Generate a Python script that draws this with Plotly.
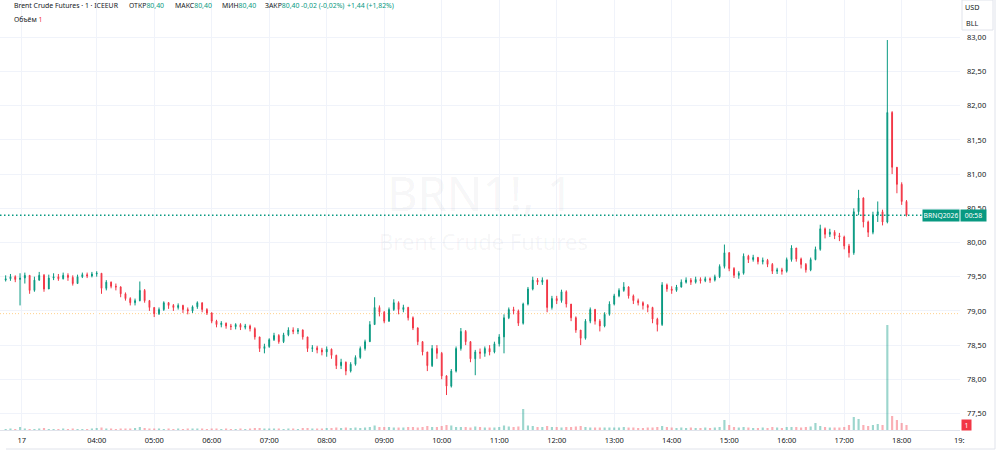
import plotly.graph_objects as go
from datetime import datetime, timedelta

# ---------------- data (5-minute bars) ----------------
day = "2026-06-17"
first_bar = "02:25"
bar_minutes = 5
first_open = 79.45

closes = [
    79.47, 79.50, 79.46, 79.48, 79.52, 79.30, 79.45, 79.52, 79.32, 79.48,
    79.50, 79.47, 79.52, 79.49, 79.40, 79.50, 79.53, 79.51, 79.54, 79.55,
    79.33, 79.42, 79.36, 79.35, 79.25, 79.18, 79.12, 79.15, 79.30, 79.15,
    79.05, 78.96, 79.02, 79.12, 79.08, 79.05, 79.08, 79.02, 79.00, 79.06,
    79.12, 79.02, 78.97, 78.85, 78.80, 78.82, 78.78, 78.77, 78.80, 78.76,
    78.78, 78.74, 78.62, 78.45, 78.48, 78.58, 78.64, 78.55, 78.65, 78.72,
    78.70, 78.72, 78.62, 78.45, 78.46, 78.43, 78.40, 78.44, 78.35, 78.20,
    78.25, 78.12, 78.22, 78.32, 78.45, 78.55, 78.80, 79.05, 78.98, 78.85,
    79.02, 79.12, 79.02, 79.05, 78.90, 78.75, 78.55, 78.40, 78.20, 78.45,
    78.38, 78.05, 77.90, 78.12, 78.45, 78.70, 78.55, 78.30, 78.40, 78.38,
    78.45, 78.40, 78.52, 78.62, 78.90, 79.02, 79.00, 78.82, 79.10, 79.32,
    79.45, 79.42, 79.45, 79.05, 79.18, 79.15, 79.28, 79.10, 78.90, 78.72,
    78.60, 78.85, 79.02, 78.85, 78.78, 78.95, 79.10, 79.22, 79.30, 79.35,
    79.22, 79.15, 79.12, 79.08, 79.05, 78.88, 78.80, 79.38, 79.32, 79.30,
    79.35, 79.42, 79.45, 79.42, 79.46, 79.44, 79.47, 79.45, 79.50, 79.65,
    79.85, 79.62, 79.52, 79.55, 79.80, 79.75, 79.78, 79.72, 79.74, 79.68,
    79.58, 79.60, 79.58, 79.75, 79.92, 79.76, 79.68, 79.60, 79.75, 79.90,
    80.20, 80.12, 80.15, 80.10, 80.08, 79.95, 79.85, 80.45, 80.65, 80.30,
    80.15, 80.40, 80.45, 80.30, 81.90, 81.10, 80.85, 80.60, 80.40,
]

highs = [
    79.52, 79.54, 79.52, 79.55, 79.56, 79.50, 79.50, 79.57, 79.54, 79.53,
    79.55, 79.54, 79.56, 79.55, 79.52, 79.53, 79.56, 79.56, 79.57, 79.58,
    79.55, 79.45, 79.43, 79.40, 79.36, 79.27, 79.20, 79.18, 79.43, 79.32,
    79.16, 79.05, 79.05, 79.14, 79.13, 79.10, 79.11, 79.09, 79.05, 79.08,
    79.14, 79.12, 79.04, 78.98, 78.87, 78.85, 78.83, 78.81, 78.82, 78.82,
    78.81, 78.80, 78.76, 78.62, 78.52, 78.60, 78.68, 78.66, 78.68, 78.76,
    78.76, 78.75, 78.73, 78.62, 78.50, 78.49, 78.46, 78.48, 78.45, 78.36,
    78.30, 78.26, 78.25, 78.35, 78.48, 78.58, 78.85, 79.20, 79.08, 79.00,
    79.05, 79.17, 79.14, 79.09, 79.06, 78.92, 78.76, 78.56, 78.40, 78.50,
    78.50, 78.40, 78.06, 78.15, 78.48, 78.75, 78.72, 78.56, 78.43, 78.45,
    78.48, 78.50, 78.55, 78.66, 78.95, 79.05, 79.06, 79.02, 79.12, 79.35,
    79.50, 79.48, 79.49, 79.46, 79.22, 79.22, 79.31, 79.30, 79.10, 78.92,
    78.72, 78.88, 79.05, 79.03, 78.88, 78.98, 79.14, 79.25, 79.33, 79.42,
    79.36, 79.24, 79.18, 79.14, 79.10, 79.06, 78.90, 79.42, 79.40, 79.36,
    79.38, 79.46, 79.49, 79.48, 79.50, 79.49, 79.50, 79.49, 79.53, 79.68,
    79.97, 79.86, 79.64, 79.58, 79.84, 79.82, 79.82, 79.79, 79.78, 79.76,
    79.70, 79.63, 79.63, 79.78, 79.96, 79.92, 79.78, 79.70, 79.78, 79.94,
    80.26, 80.22, 80.20, 80.18, 80.14, 80.10, 79.98, 80.50, 80.77, 80.66,
    80.32, 80.45, 80.60, 80.48, 82.96, 81.92, 81.05, 80.88, 80.62,
]

lows = [
    79.43, 79.44, 79.42, 79.08, 79.40, 79.25, 79.28, 79.44, 79.28, 79.32,
    79.45, 79.44, 79.46, 79.44, 79.37, 79.40, 79.48, 79.48, 79.49, 79.50,
    79.25, 79.30, 79.33, 79.30, 79.20, 79.15, 79.08, 79.08, 79.14, 79.12,
    79.00, 78.91, 78.94, 79.00, 79.03, 79.00, 79.02, 78.97, 78.95, 78.97,
    79.03, 78.98, 78.94, 78.82, 78.76, 78.76, 78.74, 78.72, 78.73, 78.72,
    78.73, 78.70, 78.58, 78.40, 78.38, 78.46, 78.56, 78.52, 78.53, 78.63,
    78.66, 78.66, 78.58, 78.40, 78.40, 78.38, 78.35, 78.33, 78.30, 78.15,
    78.15, 78.06, 78.10, 78.20, 78.30, 78.42, 78.55, 78.80, 78.92, 78.82,
    78.84, 79.00, 78.95, 78.98, 78.86, 78.72, 78.50, 78.35, 78.12, 78.18,
    78.30, 78.00, 77.77, 77.88, 78.10, 78.42, 78.50, 78.25, 78.06, 78.30,
    78.33, 78.35, 78.38, 78.48, 78.38, 78.88, 78.95, 78.78, 78.80, 79.08,
    79.30, 79.38, 79.38, 78.98, 79.02, 79.10, 79.12, 79.05, 78.85, 78.68,
    78.50, 78.58, 78.82, 78.80, 78.70, 78.76, 78.93, 79.08, 79.20, 79.28,
    79.18, 79.10, 79.08, 79.02, 78.98, 78.82, 78.70, 78.78, 79.28, 79.25,
    79.28, 79.34, 79.40, 79.38, 79.40, 79.40, 79.42, 79.41, 79.43, 79.48,
    79.62, 79.58, 79.48, 79.47, 79.53, 79.70, 79.72, 79.68, 79.68, 79.64,
    79.54, 79.54, 79.53, 79.56, 79.72, 79.72, 79.62, 79.56, 79.58, 79.74,
    79.88, 80.06, 80.08, 80.05, 80.02, 79.90, 79.78, 79.82, 80.40, 80.22,
    80.08, 80.12, 80.30, 80.25, 80.28, 81.00, 80.72, 80.55, 80.38,
]

volumes = [
    10, 15, 10, 30, 15, 10, 10, 15, 20, 10, 10, 10, 15, 10, 15, 10, 10, 10, 15,
    20, 25, 15, 15, 10, 15, 15, 15, 20, 30, 20, 15,
    15, 15, 10, 15, 10, 15, 10, 15, 15, 15, 15, 10,
    15, 15, 10, 15, 10, 10, 15, 10, 15, 20, 20, 15,
    15, 15, 15, 10, 15, 15, 10, 20, 20, 15, 15, 15,
    20, 20, 25, 20, 25, 20, 25, 20, 25, 30, 45, 30,
    30, 30, 25, 25, 25, 30, 30, 25, 30, 40, 30, 30,
    40, 50, 45, 30, 30, 30, 25, 35, 30, 25, 25, 25,
    30, 45, 35, 30, 35, 210, 45, 40, 30, 30, 40, 30,
    30, 25, 30, 30, 35, 40, 30, 25, 25, 25, 25, 25,
    25, 25, 30, 25, 25, 20, 20, 25, 25, 30, 40, 30,
    25, 20, 25, 20, 25, 20, 20, 25, 20, 25, 30, 100,
    50, 30, 25, 30, 25, 20, 20, 25, 20, 30, 25, 20,
    30, 30, 30, 25, 30, 35, 70, 40, 30, 25, 25, 25,
    30, 50, 130, 110, 50, 40, 50, 60, 50, 1050, 140, 100,
    70, 50,
]

prev_close = 78.96
price_ticks = [77.5, 78.0, 78.5, 79.0, 79.5, 80.0, 80.5, 81.0, 81.5, 82.0, 82.5, 83.0]
tick_times = ["02:41:44", "04:00", "05:00", "06:00", "07:00", "08:00", "09:00", "10:00",
              "11:00", "12:00", "13:00", "14:00", "15:00", "16:00", "17:00", "18:00", "19:00"]
tick_labels = ["17", "04:00", "05:00", "06:00", "07:00", "08:00", "09:00", "10:00",
               "11:00", "12:00", "13:00", "14:00", "15:00", "16:00", "17:00", "18:00", "19:"]

symbol = "BRN1!, 1"
title = "Brent Crude Futures"
contract = "BRNQ2026"
countdown = "00:58"
legend_name = "Brent Crude Futures · 1 · ICEEUR"
ohlc_labels = ["ОТКР", "МАКС", "МИН", "ЗАКР"]
ohlc_values = ["80,40", "80,40", "80,40", "80,40"]
bar_change = "-0,02 (-0,02%)"
day_change = "+1,44 (+1,82%)"
volume_label = "Объём"
volume_value = "1"

# ---------------- build ----------------
UP = "#089981"
DOWN = "#F23645"
FONT = "Noto Sans"

start = datetime.fromisoformat(f"{day} {first_bar}")
times = [start + timedelta(minutes=bar_minutes * i) for i in range(len(closes))]
opens = [first_open] + closes[:-1]
hi = [max(h, o, c) for h, o, c in zip(highs, opens, closes)]
lo = [min(l, o, c) for l, o, c in zip(lows, opens, closes)]
vol_colors = ["rgba(8,153,129,0.4)" if c >= o else "rgba(242,54,69,0.4)"
              for o, c in zip(opens, closes)]

last = closes[-1]

fig = go.Figure()
fig.add_trace(go.Bar(x=times, y=volumes, marker=dict(color=vol_colors, line=dict(width=0)),
                     yaxis="y2", hoverinfo="skip"))
fig.add_trace(go.Candlestick(
    x=times, open=opens, high=hi, low=lo, close=closes,
    increasing=dict(line=dict(color=UP, width=1), fillcolor=UP),
    decreasing=dict(line=dict(color=DOWN, width=1), fillcolor=DOWN),
    whiskerwidth=0, yaxis="y"))

x_range = [f"{day} 02:19:05", f"{day} 19:00:50"]
y_range = [77.259, 83.545]

fig.update_layout(
    width=1000, height=459,
    margin=dict(l=0, r=40, t=0, b=29),
    paper_bgcolor="white", plot_bgcolor="white",
    showlegend=False, bargap=0.55, boxgap=0.75, boxgroupgap=0.3,
    separators=", ",
    font=dict(family=FONT, color="#131722", size=8),
    xaxis=dict(type="date", range=x_range,
               tickvals=[f"{day} {t}" for t in tick_times], ticktext=tick_labels,
               showgrid=True, gridcolor="#f0f3fa", gridwidth=1,
               rangeslider=dict(visible=False), ticks="", ticklabelstandoff=3,
               showline=True, linecolor="#e0e3eb", linewidth=1,
               tickfont=dict(size=7.5, color="#131722"), zeroline=False),
    yaxis=dict(side="right", range=y_range, tickvals=price_ticks, tickformat=".2f",
               showgrid=True, gridcolor="#f0f3fa", zeroline=False, ticks="",
               ticklabelstandoff=6, tickfont=dict(size=7.5, color="#131722"),
               showline=False),
    yaxis2=dict(overlaying="y", side="right", range=[0, 4300], visible=False),
)

shapes = [
    dict(type="line", xref="paper", x0=0, x1=1, yref="y", y0=prev_close, y1=prev_close,
         line=dict(color="rgba(255,152,0,0.45)", width=1, dash="1px,2px"), layer="below"),
    dict(type="line", xref="paper", x0=0, x1=1, yref="y", y0=last, y1=last,
         line=dict(color=UP, width=1.5, dash="1.5px,2.5px")),
    dict(type="rect", xref="paper", yref="paper", x0=962 / 960, x1=993 / 960,
         y0=1 - 30 / 430, y1=1.0, line=dict(color="#e0e3eb", width=1), fillcolor="white"),
    dict(type="line", xref="paper", yref="paper", x0=6 / 960, x1=995 / 960,
         y0=1 - 449 / 430, y1=1 - 449 / 430, line=dict(color="#e0e3eb", width=1)),
    dict(type="line", xref="paper", yref="paper", x0=995 / 960, x1=995 / 960,
         y0=1 - 449 / 430, y1=1.0, line=dict(color="#e0e3eb", width=1)),
]
fig.update_layout(shapes=shapes)


def teal(s):
    return f"<span style='color:{UP}'>{s}</span>"


HDR = 6.9
header_items = [
    (12, legend_name),
    (127, ohlc_labels[0] + teal(ohlc_values[0])),
    (173, ohlc_labels[1] + teal(ohlc_values[1])),
    (220, ohlc_labels[2] + teal(ohlc_values[2])),
    (263, ohlc_labels[3] + teal(ohlc_values[3])),
    (299, teal(bar_change)),
    (345, teal(day_change)),
]
ann = []
for px, txt in header_items:
    ann.append(dict(text=txt, xref="paper", yref="paper", x=px / 960, y=1 - 6 / 430,
                    xanchor="left", yanchor="middle", showarrow=False,
                    font=dict(family=FONT, size=HDR, color="#131722")))
ann += [
    dict(text=volume_label + " " + f"<span style='color:{DOWN}'>{volume_value}</span>",
         xref="paper", yref="paper",
         x=12 / 960, y=1 - 19 / 430, xanchor="left", yanchor="middle", showarrow=False,
         font=dict(family=FONT, size=HDR, color="#131722")),
    dict(text=symbol, xref="paper", yref="paper", x=480 / 960, y=1 - 193 / 430,
         xanchor="center", yanchor="middle", showarrow=False,
         font=dict(family=FONT, size=47, color="rgba(19,23,34,0.05)")),
    dict(text=title, xref="paper", yref="paper", x=483 / 960, y=1 - 241 / 430,
         xanchor="center", yanchor="middle", showarrow=False,
         font=dict(family=FONT, size=22, color="rgba(19,23,34,0.05)")),
    dict(text=contract, xref="paper", yref="y", x=941 / 960, y=last,
         xanchor="center", yanchor="middle", showarrow=False, bgcolor=UP,
         width=35, height=10, borderpad=0.5,
         font=dict(family=FONT, size=6.8, color="white")),
    dict(text=countdown, xref="paper", yref="y", x=973.5 / 960, y=last,
         xanchor="center", yanchor="middle", showarrow=False, bgcolor=UP,
         width=24, height=10, borderpad=0.5,
         font=dict(family=FONT, size=6.8, color="white")),
    dict(text="USD", xref="paper", yref="paper", x=972 / 960, y=1 - 7 / 430,
         xanchor="center", yanchor="middle", showarrow=False,
         font=dict(family=FONT, size=7.2, color="#131722")),
    dict(text="BLL", xref="paper", yref="paper", x=972 / 960, y=1 - 23 / 430,
         xanchor="center", yanchor="middle", showarrow=False,
         font=dict(family=FONT, size=7.2, color="#131722")),
    dict(text=volume_value, xref="paper", yref="paper", x=966 / 960, y=1 - 425 / 430,
         xanchor="center", yanchor="middle", showarrow=False, bgcolor=DOWN,
         width=8, height=9, borderpad=0.5,
         font=dict(family=FONT, size=6.8, color="white")),
]
fig.update_layout(annotations=ann)

fig.write_html("out.html")
